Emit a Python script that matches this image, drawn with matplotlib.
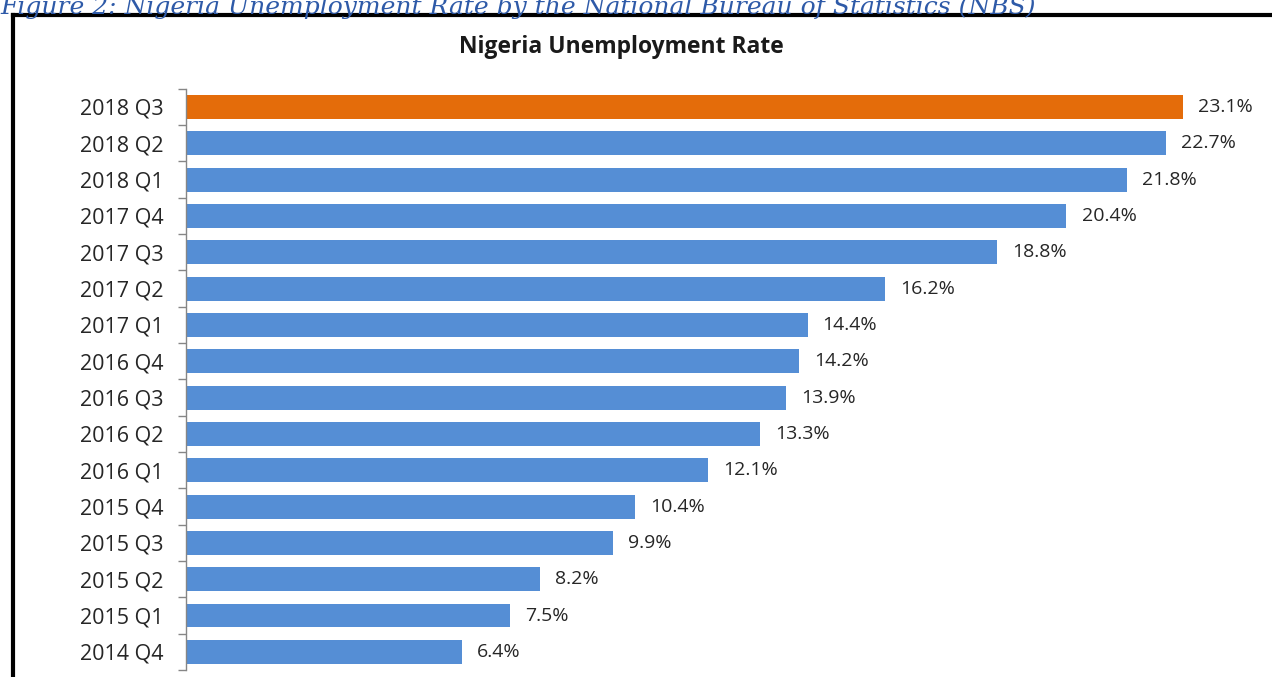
import matplotlib
matplotlib.use("Agg")
import matplotlib.pyplot as plt
from matplotlib.lines import Line2D

categories = ["2018 Q3", "2018 Q2", "2018 Q1", "2017 Q4", "2017 Q3", "2017 Q2",
              "2017 Q1", "2016 Q4", "2016 Q3", "2016 Q2", "2016 Q1", "2015 Q4",
              "2015 Q3", "2015 Q2", "2015 Q1", "2014 Q4"]
values = [23.1, 22.7, 21.8, 20.4, 18.8, 16.2, 14.4, 14.2, 13.9, 13.3, 12.1,
          10.4, 9.9, 8.2, 7.5, 6.4]
labels = ["23.1%", "22.7%", "21.8%", "20.4%", "18.8%", "16.2%", "14.4%", "14.2%",
          "13.9%", "13.3%", "12.1%", "10.4%", "9.9%", "8.2%", "7.5%", "6.4%"]
highlight = "2018 Q3"
title = "Nigeria Unemployment Rate"
caption = "Figure 2: Nigeria Unemployment Rate by the National Bureau of Statistics (NBS)"

W, H = 1272, 677
fig = plt.figure(figsize=(W / 100, H / 100), dpi=100)
fig.patch.set_facecolor("white")

# axes geometry in pixels
x0, x1 = 186, 1240
ytop, ybot = 88.8, 670.0
ax = fig.add_axes([x0 / W, 1 - ybot / H, (x1 - x0) / W, (ybot - ytop) / H])
px_per_unit = (1183 - 186) / 23.1
ax.set_xlim(0, (x1 - x0) / px_per_unit)
n = len(categories)
ax.set_ylim(n - 0.5, -0.5)

blue = "#558ED5"
orange = "#E46C0A"
colors = [orange if c == highlight else blue for c in categories]
ypos = list(range(n))
ax.barh(ypos, values, height=0.66, color=colors, edgecolor="none")

for y, v, lab in zip(ypos, values, labels):
    ax.text(v + 0.35, y, lab, va="center", ha="left", fontsize=14,
            family="Open Sans", color="#262626")

ax.set_yticks(ypos)
ax.set_yticklabels(categories, fontsize=15.5, family="Open Sans", color="#262626")
ax.tick_params(axis="y", length=0, pad=16)
# boundary ticks (Excel style)
ax.set_yticks([i - 0.5 for i in range(n + 1)], minor=True)
ax.tick_params(axis="y", which="minor", length=6, color="#868686", width=1)
ax.set_xticks([])
for s in ["top", "right", "bottom"]:
    ax.spines[s].set_visible(False)
ax.spines["left"].set_color("#868686")
ax.spines["left"].set_linewidth(1)

fig.text(621 / W, 1 - 47 / H, title, ha="center", va="center", fontsize=16.5,
         fontweight="bold", family="Open Sans", color="#1a1a1a")

fig.text(0 / W, 1 - 14 / H, caption, ha="left", va="baseline", fontsize=18,
         style="italic", family="DejaVu Serif", color="#2E5AA8")

# frame border
fig.add_artist(Line2D([13 / W, 1.0], [1 - 15 / H, 1 - 15 / H], color="black",
                      lw=3, transform=fig.transFigure))
fig.add_artist(Line2D([13 / W, 13 / W], [1 - 15 / H, 0], color="black",
                      lw=3, transform=fig.transFigure))

fig.savefig("out.png", dpi=100)
